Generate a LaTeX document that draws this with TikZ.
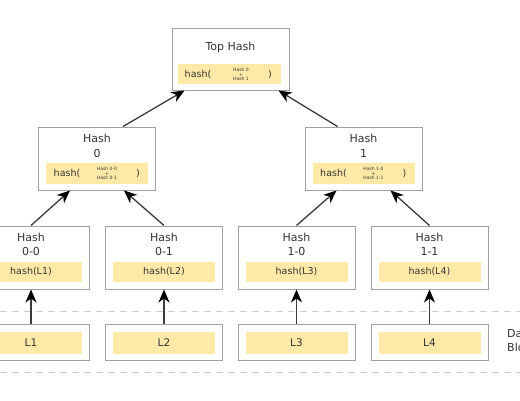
\documentclass[tikz,border=0pt]{standalone}
\usepackage{fontspec}
\setmainfont{DejaVu Sans}
\usetikzlibrary{arrows.meta}

\definecolor{boxgray}{HTML}{A0A0A0}
\definecolor{hashyellow}{HTML}{FFE9A6}
\definecolor{inkgray}{HTML}{333333}
\definecolor{darkline}{HTML}{3A3A3A}

\begin{document}
\begin{tikzpicture}[x=1pt, y=-1pt,
	every node/.style={text centered, text=inkgray, inner sep=0pt},
	hashbox/.style={rectangle, draw=boxgray, line width=1pt, fill=white, minimum width=117pt, minimum height=63pt},
	databox/.style={hashbox, minimum height=36pt},
	hashfill/.style={rectangle, fill=hashyellow, minimum width=102pt, minimum height=21pt},
	title/.style={font=\fontsize{11}{14.5}\selectfont, align=center},
	hashtext/.style={font=\fontsize{9.5}{11}\selectfont},
	leaftext/.style={font=\fontsize{10.5}{12}\selectfont},
	tinytext/.style={font=\fontsize{4.5}{4.5}\selectfont, align=center},
	hasharrow/.style={draw=darkline, line width=1.3pt, -{Stealth[length=13pt, width=11pt, inset=4pt, color=black]}},
	sepline/.style={draw=gray!40, line width=0.8pt, dash pattern=on 7pt off 5pt}
]
	\useasboundingbox (0,0) rectangle (520,400);
	\clip (0,0) rectangle (520,400);

	% data block separators
	\coordinate (sep-a-w) at (0,311);
	\coordinate (sep-a-e) at (520,311);
	\coordinate (sep-b-w) at (0,372);
	\coordinate (sep-b-e) at (520,372);
	\draw[sepline] (sep-a-w) -- (sep-a-e);
	\draw[sepline] (sep-b-w) -- (sep-b-e);

	% top hash
	\node[hashbox, minimum height=62pt]	(top)		at (230.5,59)	{};
	\node[title]						(top-t)		at (230.5,47)	{Top Hash};
	\node[hashfill, minimum width=103pt, minimum height=20pt]
										(top-y)		at (229.5,74)	{};
	\node[hashtext]						(top-a)		at (198,75)		{hash(};
	\node[tinytext]						(top-b)		at (241,74.5)	{Hash 0\\+\\Hash 1};
	\node[hashtext]						(top-c)		at (270,75)		{)};

	% first level
	\node[hashbox]		(h0)		at (97,158.5)		{};
	\node[title]		(h0-t)		at (97,146)			{Hash\\0};
	\node[hashfill]		(h0-y)		at (97,173.5)		{};
	\node[hashtext]		(h0-a)		at (67,173.5)		{hash(};
	\node[tinytext]		(h0-b)		at (107,173.5)		{Hash 0-0\\+\\Hash 0-1};
	\node[hashtext]		(h0-c)		at (138,173.5)		{)};

	\node[hashbox]		(h1)		at (363.5,158.5)	{};
	\node[title]		(h1-t)		at (363.5,146)		{Hash\\1};
	\node[hashfill]		(h1-y)		at (363.5,173.5)	{};
	\node[hashtext]		(h1-a)		at (333.5,173.5)	{hash(};
	\node[tinytext]		(h1-b)		at (373.5,173.5)	{Hash 1-0\\+\\Hash 1-1};
	\node[hashtext]		(h1-c)		at (404.5,173.5)	{)};

	% second level
	\node[hashbox]		(h00)		at (31,257.5)		{};
	\node[title]		(h00-t)		at (31,244.5)		{Hash\\0-0};
	\node[hashfill, minimum height=20pt, hashtext]
						(h00-y)		at (31,272)			{hash(L1)};

	\node[hashbox]		(h01)		at (164,257.5)		{};
	\node[title]		(h01-t)		at (164,244.5)		{Hash\\0-1};
	\node[hashfill, minimum height=20pt, hashtext]
						(h01-y)		at (164,272)		{hash(L2)};

	\node[hashbox]		(h10)		at (296.5,257.5)	{};
	\node[title]		(h10-t)		at (296.5,244.5)	{Hash\\1-0};
	\node[hashfill, minimum height=20pt, hashtext]
						(h10-y)		at (296.5,272)		{hash(L3)};

	\node[hashbox]		(h11)		at (429.5,257.5)	{};
	\node[title]		(h11-t)		at (429.5,244.5)	{Hash\\1-1};
	\node[hashfill, minimum height=20pt, hashtext]
						(h11-y)		at (429.5,272)		{hash(L4)};

	% data blocks
	\node[databox]		(l1)		at (31,342)			{};
	\node[hashfill, minimum height=22pt, leaftext]
						(l1-y)		at (31,343)			{L1};
	\node[databox]		(l2)		at (164,342)		{};
	\node[hashfill, minimum height=22pt, leaftext]
						(l2-y)		at (164,343)		{L2};
	\node[databox]		(l3)		at (296.5,342)		{};
	\node[hashfill, minimum height=22pt, leaftext]
						(l3-y)		at (296.5,343)		{L3};
	\node[databox]		(l4)		at (429.5,342)		{};
	\node[hashfill, minimum height=22pt, leaftext]
						(l4-y)		at (429.5,343)		{L4};

	\node[title, anchor=west, align=left]
						(blocks)	at (507,340.5)		{Data\\Blocks};

	% arrows
	\draw[hasharrow] (l1.north) -- (h00.south);
	\draw[hasharrow] (l2.north) -- (h01.south);
	\draw[hasharrow] (l3.north) -- (h10.south);
	\draw[hasharrow] (l4.north) -- (h11.south);

	\draw[hasharrow] (h00.north) -- ([xshift=-27pt]h0.south);
	\draw[hasharrow] (h01.north) -- ([xshift=27pt]h0.south);
	\draw[hasharrow] (h10.north) -- ([xshift=-27pt]h1.south);
	\draw[hasharrow] (h11.north) -- ([xshift=27pt]h1.south);

	\draw[hasharrow] ([xshift=26pt]h0.north) -- ([xshift=-46pt]top.south);
	\draw[hasharrow] ([xshift=-26pt]h1.north) -- ([xshift=48pt]top.south);
\end{tikzpicture}
\end{document}
